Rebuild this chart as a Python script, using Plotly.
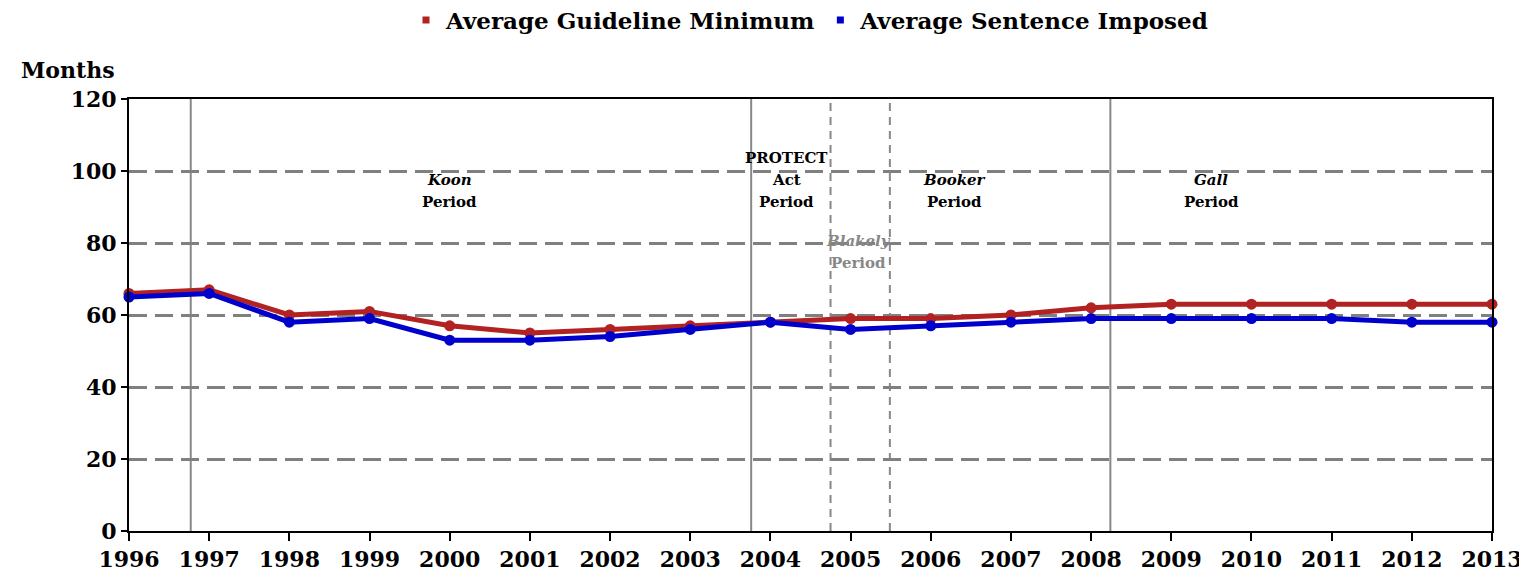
import plotly.graph_objects as go

years = list(range(1996, 2014))
guideline_min = [66, 67, 60, 61, 57, 55, 56, 57, 58, 59, 59, 60, 62, 63, 63, 63, 63, 63]
sentence_imposed = [65, 66, 58, 59, 53, 53, 54, 56, 58, 56, 57, 58, 59, 59, 59, 59, 58, 58]
y_ticks = [0, 20, 40, 60, 80, 100, 120]

solid_lines = [1996.77, 2003.76, 2008.24]
dashed_lines = [2004.75, 2005.49]

RED = "#B22222"
BLUE = "#0000CC"
FONT = "DejaVu Serif"

# page offset (body margin) of 8px
OFF = 8
L, R, T, B = 129 - OFF, 35 + OFF, 99 - OFF, 46 + OFF
plot_w = 1527 - L - R
plot_h = 577 - T - B

fig = go.Figure()
fig.add_trace(go.Scatter(x=years, y=guideline_min, mode="lines+markers",
                         line=dict(color=RED, width=5), marker=dict(size=11, color=RED),
                         showlegend=False, cliponaxis=False))
fig.add_trace(go.Scatter(x=years, y=sentence_imposed, mode="lines+markers",
                         line=dict(color=BLUE, width=5), marker=dict(size=11, color=BLUE),
                         showlegend=False, cliponaxis=False))
fig.add_trace(go.Scatter(x=[None], y=[None], mode="markers", name="<b>Average Guideline Minimum</b>",
                         marker=dict(symbol="square", size=7, color=RED)))
fig.add_trace(go.Scatter(x=[None], y=[None], mode="markers", name="<b>Average Sentence Imposed</b>",
                         marker=dict(symbol="square", size=7, color=BLUE)))

for xv in solid_lines:
    fig.add_shape(type="line", x0=xv, x1=xv, y0=0, y1=120, xref="x", yref="y",
                  line=dict(color="#888888", width=2), layer="below")
for xv in dashed_lines:
    fig.add_shape(type="line", x0=xv, x1=xv, y0=0, y1=120, xref="x", yref="y",
                  line=dict(color="#888888", width=2, dash="8px,6px"), layer="below")

def ann(x, y, text, color="black"):
    fig.add_annotation(x=x, y=y, xref="x", yref="y", text=text, showarrow=False,
                       font=dict(family=FONT, size=15, color=color))

ann(2000.0, 97.5, "<b><i>Koon</i></b>")
ann(2000.0, 91.5, "<b>Period</b>")
ann(2004.2, 103.5, "<b>PROTECT</b>")
ann(2004.2, 97.5, "<b>Act</b>")
ann(2004.2, 91.5, "<b>Period</b>")
ann(2005.1, 80.5, "<b><i>Blakely</i></b>", "#888888")
ann(2005.1, 74.5, "<b>Period</b>", "#888888")
ann(2006.3, 97.5, "<b><i>Booker</i></b>")
ann(2006.3, 91.5, "<b>Period</b>")
ann(2009.5, 97.5, "<b><i>Gall</i></b>")
ann(2009.5, 91.5, "<b>Period</b>")

fig.add_annotation(x=(68 - 129) / plot_w, y=(531 - 70) / plot_h, xref="paper", yref="paper",
                   xanchor="center", yanchor="middle", text="<b>Months</b>", showarrow=False,
                   font=dict(family=FONT, size=22, color="black"))

fig.update_layout(
    width=1527, height=577,
    margin=dict(l=L, r=R, t=T, b=B, autoexpand=False),
    paper_bgcolor="white", plot_bgcolor="white",
    font=dict(family=FONT, color="black"),
    legend=dict(orientation="h", x=(810 - 129) / plot_w, xanchor="center",
                yref="container", y=1 - (20 - OFF) / 577, yanchor="middle",
                font=dict(family=FONT, size=23, color="black"),
                itemwidth=30, tracegroupgap=0),
    xaxis=dict(range=[1996, 2013], tickmode="array", tickvals=years,
               ticktext=[f"<b>{y}</b>" for y in years],
               tickfont=dict(family=FONT, size=22, color="black"),
               showgrid=False, zeroline=False, showline=True, linecolor="black", linewidth=2,
               mirror=True, ticks="outside", ticklen=8, tickwidth=2, tickcolor="black"),
    yaxis=dict(range=[0, 120], tickmode="array", tickvals=y_ticks,
               ticktext=[f"<b>{v}</b>" for v in y_ticks],
               tickfont=dict(family=FONT, size=22, color="black"),
               showgrid=True, gridcolor="#808080", gridwidth=3, griddash="18px,8px",
               zeroline=False, showline=True, linecolor="black", linewidth=2,
               mirror=True, ticks="outside", ticklen=6, tickwidth=2, tickcolor="black"),
)

fig.write_html("out.html")
